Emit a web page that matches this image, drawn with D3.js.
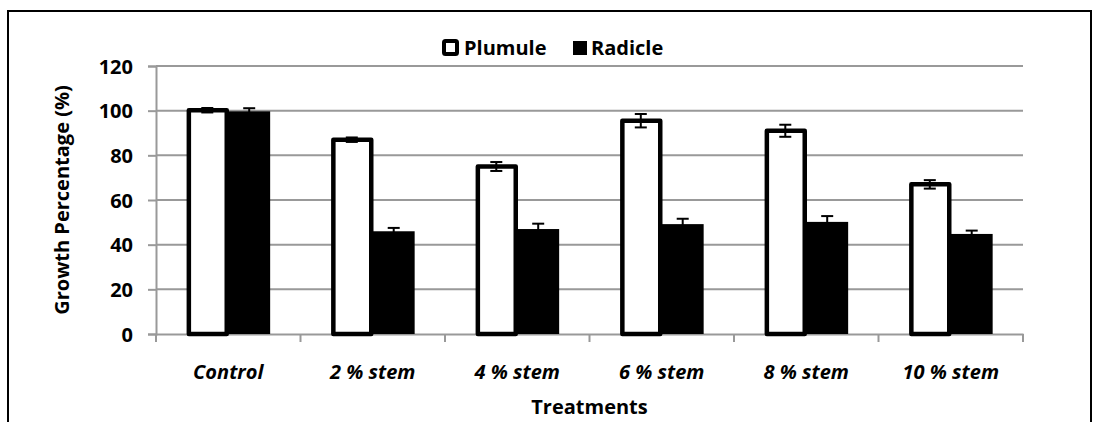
<!DOCTYPE html>
<html>
<head>
<script src="https://d3js.org/d3.v7.min.js"></script>
<style>
  body { margin: 0; background: #fff; }
  text { font-family: "Open Sans", Lato, sans-serif; font-weight: bold; fill: #000; }
</style>
</head>
<body>
<svg width="1094" height="422"></svg>
<script>
var categories = ["Control", "2 % stem", "4 % stem", "6 % stem", "8 % stem", "10 % stem"];
var seriesNames = ["Plumule", "Radicle"];
var plumule = [100.2, 87, 75, 95.5, 91, 67];
var plumuleErr = [1, 1, 2, 3, 2.7, 1.9];
var radicle = [99.7, 46, 47, 49.2, 50.2, 44.8];
var radicleErr = [1.4, 1.5, 2.4, 2.4, 2.6, 1.5];
var yTicks = [0, 20, 40, 60, 80, 100, 120];

var svg = d3.select("svg");
var plotLeft = 156, plotRight = 1023, plotTop = 66, plotBottom = 334;

// outer frame
svg.append("rect")
  .attr("x", 8).attr("y", 11).attr("width", 1083).attr("height", 430)
  .attr("fill", "none").attr("stroke", "#000").attr("stroke-width", 2);

var x0 = d3.scaleBand().domain(categories).range([plotLeft, plotRight])
  .paddingInner(0.42).paddingOuter(0.21);
var x1 = d3.scaleBand().domain(seriesNames).range([0, x0.bandwidth()]);
var y = d3.scaleLinear().domain([0, 120]).range([plotBottom, plotTop]);

// gridlines
svg.append("g").selectAll("line").data(yTicks.filter(function(d) { return d > 0; }))
  .enter().append("line")
  .attr("x1", plotLeft).attr("x2", plotRight)
  .attr("y1", function(d) { return y(d); }).attr("y2", function(d) { return y(d); })
  .attr("stroke", "#999").attr("stroke-width", 2);

// y axis
var yAxis = svg.append("g").attr("transform", "translate(" + plotLeft + ",0)")
  .call(d3.axisLeft(y).tickValues(yTicks).tickSize(8).tickPadding(15));
yAxis.select(".domain").attr("stroke", "#999").attr("stroke-width", 2);
yAxis.selectAll(".tick line").attr("stroke", "#999").attr("stroke-width", 2);
yAxis.selectAll(".tick text").style("font-size", "20px").attr("dy", "0.36em");

// x axis
var xAxis = svg.append("g").attr("transform", "translate(0," + plotBottom + ")")
  .call(d3.axisBottom(x0).tickSize(0).tickPadding(31));
xAxis.select(".domain").attr("stroke", "#999").attr("stroke-width", 2);
xAxis.selectAll(".tick text").style("font-size", "20px").style("font-style", "italic");
var bounds = categories.map(function(c) { return x0(c) - x0.step() * 0.21; });
bounds.push(plotRight);
svg.append("g").selectAll("line").data(bounds).enter().append("line")
  .attr("x1", function(d) { return d; }).attr("x2", function(d) { return d; })
  .attr("y1", plotBottom).attr("y2", plotBottom + 8)
  .attr("stroke", "#999").attr("stroke-width", 2);

// bars
var rows = categories.map(function(c, i) {
  return { cat: c, vals: [
    { s: "Plumule", v: plumule[i], e: plumuleErr[i] },
    { s: "Radicle", v: radicle[i], e: radicleErr[i] }
  ]};
});
var groups = svg.append("g").selectAll("g").data(rows).enter().append("g")
  .attr("transform", function(d) { return "translate(" + x0(d.cat) + ",0)"; });

groups.selectAll("rect").data(function(d) { return d.vals; }).enter().append("rect")
  .attr("x", function(d) { return d.s === "Plumule" ? x1(d.s) + 2.5 : x1(d.s); })
  .attr("width", function(d) { return d.s === "Plumule" ? x1.bandwidth() - 4 : x1.bandwidth(); })
  .attr("y", function(d) { return y(d.v); })
  .attr("height", function(d) { return plotBottom - y(d.v); })
  .attr("fill", function(d) { return d.s === "Plumule" ? "#fff" : "#000"; })
  .attr("stroke", "#000")
  .attr("stroke-width", function(d) { return d.s === "Plumule" ? 4.5 : 0; })
  .attr("stroke-linejoin", "round");

// error bars
var eb = groups.selectAll("g.err").data(function(d) { return d.vals; }).enter().append("g")
  .attr("class", "err")
  .attr("transform", function(d) { return "translate(" + (x1(d.s) + x1.bandwidth() / 2) + ",0)"; });
eb.append("line")
  .attr("y1", function(d) { return y(d.v + d.e); }).attr("y2", function(d) { return y(d.v - d.e); })
  .attr("stroke", "#000").attr("stroke-width", 2);
eb.selectAll("line.cap").data(function(d) { return [d.v + d.e, d.v - d.e]; }).enter().append("line")
  .attr("class", "cap")
  .attr("x1", -6).attr("x2", 6)
  .attr("y1", function(d) { return y(d); }).attr("y2", function(d) { return y(d); })
  .attr("stroke", "#000").attr("stroke-width", 2);

// axis titles
svg.append("text")
  .attr("transform", "translate(69," + ((plotTop + plotBottom) / 2) + ") rotate(-90)")
  .attr("text-anchor", "middle")
  .style("font-size", "20px")
  .text("Growth Percentage (%)");
svg.append("text")
  .attr("x", (plotLeft + plotRight) / 2).attr("y", 414)
  .attr("text-anchor", "middle")
  .style("font-size", "20px")
  .text("Treatments");

// legend
var legend = svg.append("g");
legend.append("rect").attr("x", 444).attr("y", 41).attr("width", 13).attr("height", 13)
  .attr("fill", "#fff").attr("stroke", "#000").attr("stroke-width", 4).attr("rx", 1.5);
legend.append("text").attr("x", 464).attr("y", 55).style("font-size", "20px").text(seriesNames[0]);
legend.append("rect").attr("x", 573).attr("y", 41).attr("width", 14).attr("height", 14)
  .attr("fill", "#000");
legend.append("text").attr("x", 591).attr("y", 55).style("font-size", "20px").text(seriesNames[1]);
</script>
</body>
</html>
